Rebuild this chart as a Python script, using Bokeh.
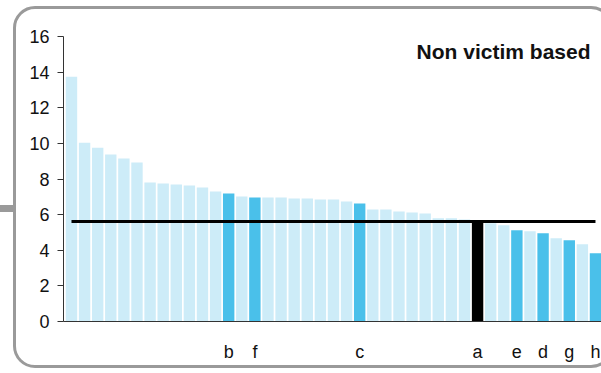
from bokeh.plotting import figure
from bokeh.models import Label, FixedTicker, InlineStyleSheet
from bokeh.embed import file_html
from bokeh.resources import INLINE

# ---- data ----
values = [13.74, 10.04, 9.76, 9.37, 9.15, 8.93, 7.80, 7.75, 7.69, 7.63, 7.52,
          7.30, 7.19, 7.02, 6.96, 6.96, 6.96, 6.91, 6.91, 6.85, 6.85, 6.74,
          6.63, 6.29, 6.29, 6.18, 6.12, 6.07, 5.79, 5.79, 5.73, 5.62, 5.51,
          5.40, 5.12, 5.06, 4.95, 4.67, 4.56, 4.33, 3.83]
labels = {13: "b", 15: "f", 23: "c", 32: "a", 35: "e", 37: "d", 39: "g", 41: "h"}
highlight_dark = ["b", "f", "c", "e", "d", "g", "h"]
highlight_black = ["a"]
average = 5.62
y_ticks = [0, 2, 4, 6, 8, 10, 12, 14, 16]
title_text = "Non victim based"

LIGHT = "#cdecf8"
DARK = "#4ac0ea"
BLACK = "#000000"

xs = list(range(1, len(values) + 1))
colors = []
for i in xs:
    lab = labels.get(i)
    if lab in highlight_black:
        colors.append(BLACK)
    elif lab in highlight_dark:
        colors.append(DARK)
    else:
        colors.append(LIGHT)

frame_css = InlineStyleSheet(css="""
:host { overflow: hidden; }
:host::before {
  content: ""; position: absolute; left: 13px; top: 6px;
  width: 600px; height: 362px; box-sizing: border-box;
  border: 3px solid #9a9a9a; border-radius: 22px;
  pointer-events: none; z-index: 10;
}
:host::after {
  content: ""; position: absolute; left: 0px; top: 205px;
  width: 14px; height: 7px; background: #9a9a9a;
  pointer-events: none; z-index: 10;
}
""")

p = figure(width=601, height=373, output_backend="svg", toolbar_location=None,
           x_range=(0.39, 41.46), y_range=(0, 16),
           min_border_left=63, min_border_right=0, min_border_top=36, min_border_bottom=52,
           stylesheets=[frame_css])
p.background_fill_color = "white"
p.border_fill_color = "white"
p.outline_line_color = None
p.grid.visible = False

p.vbar(x=xs, top=values, width=0.87, color=colors, line_color=None)
p.line(x=[xs[0], xs[-1]], y=[average, average], line_color="black", line_width=3)

# axes
font = "Liberation Sans"
yax = p.yaxis[0]
yax.ticker = FixedTicker(ticks=y_ticks)
yax.major_tick_in = 0
yax.major_tick_out = 6
yax.minor_tick_line_color = None
yax.axis_line_color = "#333333"
yax.major_tick_line_color = "#333333"
yax.major_label_text_font = font
yax.major_label_text_font_size = "18px"
yax.major_label_text_color = "#111111"
yax.major_label_standoff = 8

xax = p.xaxis[0]
xax.ticker = FixedTicker(ticks=list(labels.keys()))
xax.major_label_overrides = {k: v for k, v in labels.items()}
xax.major_tick_in = 0
xax.major_tick_out = 0
xax.minor_tick_line_color = None
xax.axis_line_color = "#333333"
xax.major_label_text_font = font
xax.major_label_text_font_size = "18px"
xax.major_label_text_color = "#111111"
xax.major_label_standoff = 20

p.add_layout(Label(x=40.62, y=15.16, text=title_text, text_align="right",
                   text_baseline="alphabetic", text_font=font, text_font_style="bold",
                   text_font_size="21px", text_color="#111111"))

open("out.html", "w").write(file_html(p, INLINE))
